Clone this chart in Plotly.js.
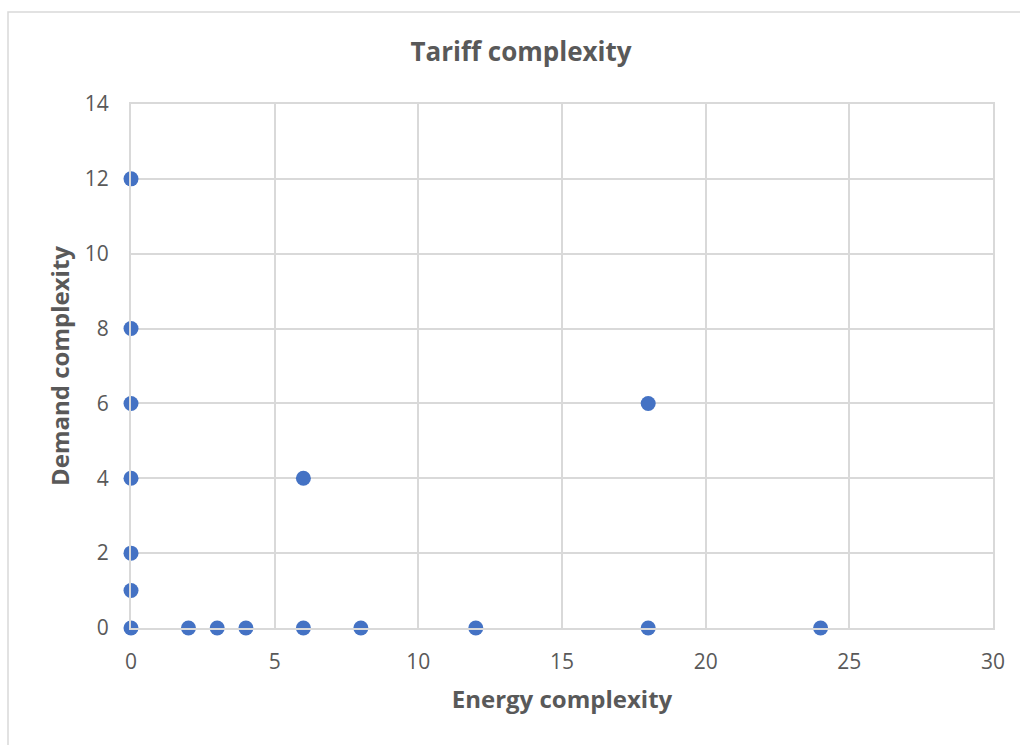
<!DOCTYPE html>
<html>
<head>
<meta charset="utf-8">
<script src="https://cdn.plot.ly/plotly-3.0.1.min.js"></script>
<style>html,body{margin:0;padding:0;background:#fff;}#chart{width:1020px;height:745px;}</style>
</head>
<body>
<div id="chart"></div>
<script>
const energyComplexity = [0, 0, 0, 0, 0, 0, 0, 2, 3, 4, 6, 8, 12, 18, 24, 6, 18];
const demandComplexity = [12, 8, 6, 4, 2, 1, 0, 0, 0, 0, 0, 0, 0, 0, 0, 4, 6];
const xTicks = [0, 5, 10, 15, 20, 25, 30];
const yTicks = [0, 2, 4, 6, 8, 10, 12, 14];

const fontFam = "'Open Sans', 'Liberation Sans', sans-serif";
const grid = '#d9d9d9';

const trace = {
  x: energyComplexity,
  y: demandComplexity,
  type: 'scatter',
  mode: 'markers',
  marker: {size: 15, color: '#4472C4'},
  cliponaxis: false,
  hoverinfo: 'x+y'
};

const L = 131, R = 27, T = 104, B = 117, W = 1020, H = 745;
const pw = W - L - R, ph = H - T - B;
const px = v => (v - L) / pw;
const py = v => 1 - (v - T) / ph;

const layout = {
  width: W, height: H,
  margin: {l: L, r: R, t: T, b: B},
  paper_bgcolor: '#ffffff',
  plot_bgcolor: '#ffffff',
  showlegend: false,
  font: {family: fontFam, color: '#595959', size: 18},
  title: {text: '<b>Tariff complexity</b>', x: 521 / W, xref: 'container', xanchor: 'center',
          y: 1 - 52 / H, yanchor: 'middle',
          font: {family: fontFam, size: 26, color: '#595959'}},
  xaxis: {
    range: [0, 30], tickvals: xTicks, ticktext: xTicks.map(String),
    showgrid: true, gridcolor: grid, gridwidth: 2,
    zeroline: false, showline: true, mirror: true, linecolor: grid, linewidth: 2,
    ticks: '', ticklabelstandoff: 14,
    tickfont: {family: fontFam, size: 21, color: '#595959'},
    title: {text: '<b>Energy complexity</b>', standoff: 17, font: {family: fontFam, size: 24, color: '#595959'}}
  },
  yaxis: {
    range: [0, 14], tickvals: yTicks, ticktext: yTicks.map(String),
    showgrid: true, gridcolor: grid, gridwidth: 2,
    zeroline: false, showline: true, mirror: true, linecolor: grid, linewidth: 2,
    ticks: '', ticklabelstandoff: 16,
    tickfont: {family: fontFam, size: 21, color: '#595959'},
    title: {text: '<b>Demand complexity</b>', standoff: 8, font: {family: fontFam, size: 24, color: '#595959'}}
  },
  shapes: [{
    type: 'rect', xref: 'paper', yref: 'paper',
    x0: px(8), x1: px(1030), y0: py(760), y1: py(12),
    line: {color: '#d9d9d9', width: 1.5}, fillcolor: 'rgba(0,0,0,0)', layer: 'below'
  }]
};

Plotly.newPlot('chart', [trace], layout, {displayModeBar: false, staticPlot: true});
</script>
</body>
</html>
